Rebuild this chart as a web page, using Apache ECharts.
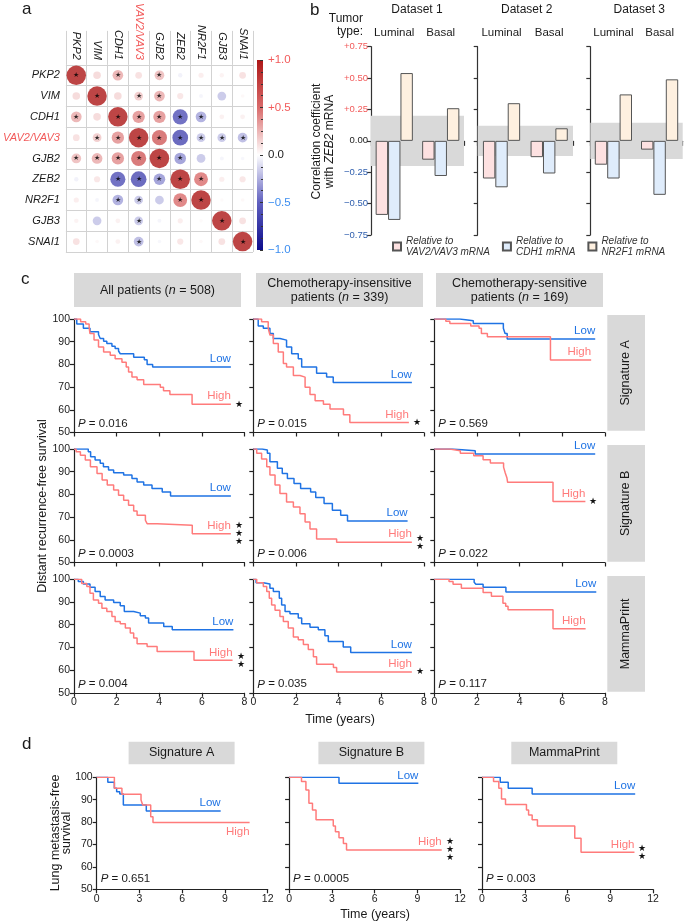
<!DOCTYPE html>
<html>
<head>
<meta charset="utf-8">
<script src="https://cdn.jsdelivr.net/npm/echarts@6/dist/echarts.min.js"></script>
<style>
html, body { margin: 0; padding: 0; background: #fff; }
#chart { width: 685px; height: 923px; }
</style>
</head>
<body>
<div id="chart"></div>
<script>
// ---------- panel a: correlation matrix ----------
var genes = ['PKP2', 'VIM', 'CDH1', 'VAV2/VAV3', 'GJB2', 'ZEB2', 'NR2F1', 'GJB3', 'SNAI1'];
var corr = [
    [1, 0.15, 0.3, 0.12, 0.25, -0.05, 0.07, 0.05, 0.12],
    [0.15, 1, 0.15, 0.2, 0.3, 0.1, -0.04, -0.2, 0.03],
    [0.3, 0.15, 1, 0.4, 0.4, -0.6, -0.3, 0.06, 0.06],
    [0.12, 0.2, 0.4, 1, 0.6, -0.65, -0.2, -0.2, -0.25],
    [0.25, 0.3, 0.4, 0.6, 1, -0.35, -0.2, -0.04, -0.03],
    [-0.05, 0.1, -0.6, -0.65, -0.35, 1, 0.5, 0.07, 0.1],
    [0.07, -0.04, -0.3, -0.2, -0.2, 0.5, 1, 0.02, 0.03],
    [0.05, -0.2, 0.06, -0.2, -0.04, 0.07, 0.02, 1, 0.12],
    [0.12, 0.03, 0.06, -0.25, -0.03, 0.1, 0.03, 0.12, 1]
];
var corrSig = [
    [1, 0, 1, 0, 1, 0, 0, 0, 0],
    [0, 1, 0, 1, 1, 0, 0, 0, 0],
    [1, 0, 1, 1, 1, 1, 1, 0, 0],
    [0, 1, 1, 1, 1, 1, 1, 1, 1],
    [1, 1, 1, 1, 1, 1, 0, 0, 0],
    [0, 0, 1, 1, 1, 1, 1, 0, 0],
    [0, 0, 1, 1, 0, 1, 1, 0, 0],
    [0, 0, 0, 1, 0, 0, 0, 1, 0],
    [0, 0, 0, 1, 0, 0, 0, 0, 1]
];

// ---------- panel b: bars ----------
var datasets = ['Dataset 1', 'Dataset 2', 'Dataset 3'];
var tumorTypes = ['Luminal', 'Basal'];
var relToVAV = [[-0.59, -0.15], [-0.30, -0.13], [-0.19, -0.07]];
var relToCDH1 = [[-0.63, -0.28], [-0.37, -0.26], [-0.30, -0.43]];
var relToNR2F1 = [[0.54, 0.26], [0.30, 0.10], [0.37, 0.49]];
var bandHalf = [0.20, 0.12, 0.145];

// ---------- panel c: distant recurrence-free survival [years, %] ----------
var sigA_all_low = [[0,100],[0.13,97.8],[0.44,95.9],[0.75,94.4],[1.15,93.2],[1.23,91.4],[1.39,90.2],[1.54,89.2],[1.78,88],[1.93,87],[2.09,85.9],[2.17,84.7],[2.8,83.2],[3.3,82.1],[3.43,80],[3.69,78.8],[7.36,78.8]];
var sigA_all_high = [[0,100],[0.31,98.8],[0.55,97.8],[0.71,96.3],[0.75,93.6],[0.94,90.7],[1.15,87.7],[1.39,85.5],[1.7,84],[1.93,82.5],[2.25,81],[2.45,78.8],[2.56,76.6],[2.72,74.4],[2.96,73.2],[3.27,71.1],[4.05,69.9],[4.2,68.4],[4.5,66.7],[5.54,62.5],[7.36,62.5]];
var sigA_ins_low = [[0,100],[0.23,96.9],[0.47,95.9],[0.78,93.6],[0.94,91.4],[1.25,90.7],[1.56,87.7],[1.8,84.7],[2.11,82.5],[2.27,78.8],[2.97,76.1],[3.44,74.4],[3.75,72],[7.44,72]];
var sigA_ins_high = [[0,100],[0.39,98.8],[0.7,95.9],[0.78,92.9],[0.94,89.2],[1.17,85.5],[1.41,80.4],[1.56,78.8],[1.88,75.1],[2.19,74.4],[2.43,69.9],[2.66,66.7],[2.9,64],[3.29,62.5],[3.6,60.3],[4.23,57.8],[4.53,54.4],[7.3,54.4]];
var sigA_sens_low = [[0,100],[1.2,99.2],[1.83,98],[3.24,95.9],[3.32,93.6],[3.42,91.2],[7.55,91.2]];
var sigA_sens_high = [[0,100],[0.54,99],[0.73,98],[1.71,96.9],[2.1,95.9],[2.21,93.6],[2.49,92.2],[5.45,81.9],[7.36,81.9]];

var sigB_all_low = [[0,100],[0.67,98.8],[0.78,96.6],[0.99,95.1],[1.23,93.7],[1.38,92.2],[1.62,90.7],[1.86,89.5],[2.33,88.5],[2.72,87],[2.96,85.5],[3.27,84.1],[3.66,82.6],[4.14,81.1],[4.53,79.3],[7.36,79.3]];
var sigB_all_high = [[0,100],[0.1,98.8],[0.3,97.3],[0.53,95.1],[0.77,92.2],[1.08,89.2],[1.32,86.3],[1.56,84.1],[1.86,81.9],[2.09,79.6],[2.33,77.4],[2.56,75.2],[2.8,72.7],[2.96,70.8],[3.35,68.6],[3.43,67.1],[3.9,66.4],[5.55,62.7],[7.36,62.7]];
var sigB_ins_low = [[0,100],[0.42,99.6],[0.66,98.1],[0.78,94.4],[1.13,91.5],[1.36,89.2],[1.6,87],[1.91,84.8],[2.22,82.6],[2.69,81.1],[2.93,78.6],[3.32,76],[3.71,73],[4.1,70.8],[4.42,68.3],[7.24,68.3]];
var sigB_ins_high = [[0,100],[0.16,98.1],[0.39,95.6],[0.63,92.2],[0.78,88.5],[1.02,84.1],[1.25,80.4],[1.56,76.7],[1.88,74.5],[2.19,71.5],[2.43,67.8],[2.66,64.8],[2.97,60.4],[3.91,58.9],[7.44,58.9]];
var sigB_sens_low = [[0,100],[0.84,99.2],[1.92,97.8],[7.55,97.8]];
var sigB_sens_high = [[0,100],[0.72,99.2],[1.22,98.1],[1.85,97],[2.29,95.3],[2.63,93.8],[3.25,92],[3.33,89.4],[3.41,87.2],[3.44,85.3],[5.57,76.9],[7.09,76.9]];

var mp_all_low = [[0,100],[0.2,99],[0.44,97.9],[0.75,96.5],[0.99,94.6],[1.23,92.4],[1.46,90.9],[1.86,89.8],[2.17,88.3],[2.36,85.8],[2.8,85.1],[3.11,83.9],[3.35,82.9],[3.5,80.7],[4.21,79.2],[4.61,77.8],[7.48,77.8]];
var mp_all_high = [[0,100],[0.36,98.2],[0.6,96.8],[0.75,93.9],[0.91,90.9],[1.15,89.5],[1.31,87.3],[1.54,85.8],[1.78,83.6],[1.93,81.4],[2.17,80.4],[2.41,78.5],[2.64,76.3],[2.8,74.1],[2.96,71.6],[3.43,70.4],[3.9,68.2],[5.63,64.3],[7.44,64.3]];
var mp_ins_low = [[0,100],[0.13,98.5],[0.47,97.9],[0.78,96.1],[0.94,94.6],[1.22,91.7],[1.33,88.7],[1.49,85.8],[1.72,84.8],[2.11,82.9],[2.27,80.4],[2.66,78.9],[3.05,77.8],[3.36,75.1],[3.52,72.6],[4.22,70.2],[4.57,67.8],[7.44,67.8]];
var mp_ins_high = [[0,100],[0.16,98.5],[0.47,96.8],[0.63,94.6],[0.75,91.7],[0.86,88.7],[1.02,86.4],[1.25,83.6],[1.41,81.4],[1.64,78.5],[1.88,74.6],[2.11,73.4],[2.35,71.3],[2.58,69.1],[2.82,65.9],[2.97,62.6],[3.76,61.1],[3.91,59.2],[7.44,59.2]];
var mp_sens_low = [[0,100],[1.87,98.7],[1.95,97.8],[2.29,96.5],[3.36,94.4],[7.6,94.4]];
var mp_sens_high = [[0,100],[0.69,99],[0.88,97.8],[1.27,96.1],[2.29,94.2],[2.68,92.5],[3.22,89.5],[3.35,88.1],[3.46,86.6],[5.57,78.2],[7.1,78.2]];

var cPvalues = ['0.016', '0.015', '0.569', '0.0003', '0.006', '0.022', '0.004', '0.035', '0.117'];
var cStars = [1, 1, 0, 3, 2, 1, 2, 1, 0];
var cColumnTitles = ['All patients ({i|n} = 508)', 'Chemotherapy-insensitive\npatients ({i|n} = 339)', 'Chemotherapy-sensitive\npatients ({i|n} = 169)'];
var cRowTitles = ['Signature A', 'Signature B', 'MammaPrint'];

// ---------- panel d: lung metastasis-free survival ----------
var lung_sigA_low = [[0,100],[0.78,97.8],[1.24,95.1],[1.4,93.6],[1.62,92.6],[1.87,87.6],[3.48,85],[8.7,85]];
var lung_sigA_high = [[0,100],[1.24,95.1],[1.77,92.4],[3.11,89.9],[3.23,87.6],[3.79,82.4],[3.95,79.8],[10.73,79.8]];
var lung_sigB_low = [[0,100],[3.5,97.3],[9.07,97.3]];
var lung_sigB_high = [[0,100],[0.87,98.1],[1.18,94.3],[1.39,88.4],[1.64,85.4],[1.89,81],[3.1,78.3],[3.25,75.7],[3.5,73],[3.81,70.5],[4.03,67.6],[10.71,67.6]];
var lung_mp_low = [[0,100],[1.28,97.8],[1.84,95.1],[3.52,92.6],[10.75,92.6]];
var lung_mp_high = [[0,100],[0.81,98.1],[1.18,95.1],[1.37,90.3],[1.65,87.9],[3.12,85.4],[3.27,83.2],[3.52,81],[3.89,78.3],[6.51,72.8],[6.95,66.5],[10.7,66.5]];
var dPvalues = ['0.651', '0.0005', '0.003'];
var dStars = [0, 3, 2];
var dTitles = ['Signature A', 'Signature B', 'MammaPrint'];

// ---------- styling ----------
var FONT = '"Liberation Sans", Arial, Helvetica, sans-serif';
var BLUE = '#1f73e4', PINK = '#ff7b7b', INK = '#1a1a1a';
var RED_TXT = '#f25a5a', BLUE_TXT = '#3d8ef0', BLUE_TXT2 = '#2f5fae';
var CMAP = ['#0c0c8c', '#6060bf', '#ffffff', '#d96b6b', '#ad1717'];
var BOX = '#d9d9d9';

var grids = [], xAxes = [], yAxes = [], series = [], graphics = [];

function txt(x, y, text, size, opts) {
    opts = opts || {};
    return {
        type: 'text', x: x, y: y, rotation: opts.rotation || 0, silent: true,
        style: {
            text: text, fill: opts.color || INK,
            font: (opts.italic ? 'italic ' : '') + size + 'px ' + FONT,
            align: opts.align || 'center', verticalAlign: opts.valign || 'middle',
            lineHeight: opts.lineHeight || size * 1.1,
            rich: { i: { fontStyle: 'italic', fontSize: size, fontFamily: FONT, fill: opts.color || INK } }
        }
    };
}
function box(x, y, w, h) {
    return { type: 'rect', silent: true, shape: { x: x, y: y, width: w, height: h }, style: { fill: BOX } };
}

// ===== panel a =====
grids.push({ left: 61, top: 60, width: 192, height: 192 });
xAxes.push({
    type: 'category', gridIndex: 0, data: genes, position: 'top',
    axisLine: { show: false },
    axisTick: { show: true, length: 34, lineStyle: { color: '#d2d2d2' } },
    axisLabel: { rotate: 90, fontSize: 11, fontStyle: 'italic', margin: 5, interval: 0,
        color: function (v) { return v === 'VAV2/VAV3' ? RED_TXT : INK; } },
    splitLine: { show: true, lineStyle: { color: '#d2d2d2' } }
});
yAxes.push({
    type: 'category', gridIndex: 0, data: genes, inverse: true,
    axisLine: { show: false }, axisTick: { show: false },
    axisLabel: { fontSize: 11, fontStyle: 'italic', margin: 6, interval: 0,
        color: function (v) { return v === 'VAV2/VAV3' ? RED_TXT : INK; } },
    splitLine: { show: true, lineStyle: { color: '#d2d2d2' } }
});
var corrData = [];
corr.forEach(function (row, i) {
    row.forEach(function (r, j) { corrData.push([j, i, r, corrSig[i][j]]); });
});
series.push({
    type: 'scatter', xAxisIndex: 0, yAxisIndex: 0, data: corrData, z: 3,
    symbolSize: function (v) { return Math.max(3.5, 19.5 * Math.sqrt(Math.abs(v[2]))); },
    label: { show: true, position: 'inside', fontSize: 7, color: '#000',
        formatter: function (p) { return p.value[3] ? '★' : ''; } }
});

// colour bar
grids.push({ left: 257, top: 60, width: 6, height: 190 });
xAxes.push({ type: 'category', gridIndex: 1, data: [''], show: false });
yAxes.push({
    type: 'value', gridIndex: 1, min: -1, max: 1, interval: 0.5, position: 'right',
    axisLine: { show: false },
    axisTick: { show: true, inside: true, length: 3, lineStyle: { color: '#333' } },
    minorTick: { show: true, splitNumber: 4, length: 2, lineStyle: { color: '#333' } },
    splitLine: { show: false },
    axisLabel: { fontSize: 11.5, margin: 5,
        formatter: function (v) { return v > 0 ? '+' + v.toFixed(1) : (v < 0 ? '\u2212' + Math.abs(v).toFixed(1) : '0.0'); },
        color: function (v) { v = +v; return v > 0 ? RED_TXT : (v < 0 ? BLUE_TXT : INK); } }
});
graphics.push({
    type: 'rect', silent: true, z: -1, shape: { x: 257, y: 60, width: 6, height: 190 },
    style: { fill: { type: 'linear', x: 0, y: 0, x2: 0, y2: 1, colorStops: CMAP.slice().reverse().map(function (c, k) { return { offset: k / 4, color: c }; }) } }
});

// ===== panel b =====
var bLeft = [371, 477.7, 590.3], bWidth = [93, 95.3, 92.4];
var barColors = ['#fde1e1', '#dfecfb', '#fef0e0'];
var barNames = ['VAV2/VAV3', 'CDH1', 'NR2F1'];
var barSets = [relToVAV, relToCDH1, relToNR2F1];
datasets.forEach(function (ds, k) {
    var gi = grids.length;
    grids.push({ left: bLeft[k], top: 46.7, width: bWidth[k], height: 188.3 });
    var xb = xAxes.length;
    xAxes.push({
        type: 'category', gridIndex: gi, data: tumorTypes, position: 'bottom',
        axisLine: { onZero: true, lineStyle: { color: '#333', width: 1.2 } },
        axisTick: { show: true, length: 5, lineStyle: { color: '#333', width: 1.2 } },
        axisLabel: { show: false }
    });
    xAxes.push({
        type: 'category', gridIndex: gi, data: tumorTypes, position: 'top',
        axisLine: { show: false }, axisTick: { show: false },
        axisLabel: { fontSize: 11.5, margin: 8, color: INK, interval: 0 }
    });
    var yi = yAxes.length;
    yAxes.push({
        type: 'value', gridIndex: gi, min: -0.75, max: 0.75, interval: 0.25,
        axisLine: { show: true, lineStyle: { color: '#333', width: 1.2 } },
        axisTick: { show: true, length: 4, lineStyle: { color: '#333', width: 1.2 } },
        splitLine: { show: false },
        axisLabel: { show: k === 0, fontSize: 9.5, margin: 3,
            formatter: function (v) { return v > 0 ? '+' + v.toFixed(2) : (v < 0 ? '\u2212' + Math.abs(v).toFixed(2) : '0.00'); },
            color: function (v) { v = +v; return v > 0 ? RED_TXT : (v < 0 ? BLUE_TXT2 : INK); } }
    });
    // grey band behind the bars
    series.push({
        type: 'custom', xAxisIndex: xb, yAxisIndex: yi, z: 1, silent: true,
        data: [[0, -bandHalf[k], bandHalf[k]]],
        encode: { x: 0, y: [1, 2] },
        renderItem: function (params, api) {
            var cs = params.coordSys;
            var top = api.coord([0, api.value(2)])[1];
            var bottom = api.coord([0, api.value(1)])[1];
            return { type: 'rect', shape: { x: cs.x, y: top, width: cs.width, height: bottom - top }, style: { fill: '#d9d9d9' } };
        }
    });
    barSets.forEach(function (set, s) {
        series.push({
            type: 'bar', name: barNames[s], xAxisIndex: xb, yAxisIndex: yi, data: set[k],
            barWidth: 12.4, barGap: '0%', z: 3,
            itemStyle: { color: barColors[s], borderColor: '#555', borderWidth: 1 }
        });
    });
    graphics.push(txt(bLeft[k] + 46 + (k === 0 ? 0 : 3), 9.5, ds, 12));
});

// ===== KM helper =====
function kmLine(xi, yi, data, color, name, below, stars) {
    var last = data[data.length - 1];
    var mp = [{ coord: last, label: { show: true, formatter: name, color: color, fontSize: 11.5,
        position: [0, 0], align: 'right', verticalAlign: below ? 'top' : 'bottom', offset: [0, below ? 3 : -2] } }];
    if (stars) {
        var s = []; for (var q = 0; q < stars; q++) s.push('★');
        mp.push({ coord: last, label: { show: true, formatter: s.join('\n'), color: '#111', fontSize: 9, lineHeight: 8,
            position: [0, 0], align: 'center', verticalAlign: 'middle', offset: [8, 0] } });
    }
    return {
        type: 'line', xAxisIndex: xi, yAxisIndex: yi, step: 'end', data: data, z: 3,
        symbol: 'none', showSymbol: false, lineStyle: { color: color, width: 1.5 }, itemStyle: { color: color },
        markPoint: { symbol: 'circle', symbolSize: 0, silent: true, data: mp }
    };
}
function addKM(o) {
    var gi = grids.length, xi = xAxes.length, yi = yAxes.length;
    grids.push({ left: o.left, top: o.top, width: o.width, height: o.height });
    xAxes.push({
        type: 'value', gridIndex: gi, min: 0, max: o.xmax, interval: o.xint,
        axisLine: { onZero: false, lineStyle: { color: '#222', width: 1.2 } },
        axisTick: { length: 4, lineStyle: { color: '#222', width: 1.2 } },
        axisLabel: { show: o.showX, fontSize: 10.5, color: INK, margin: 4 },
        splitLine: { show: false }
    });
    yAxes.push({
        type: 'value', gridIndex: gi, min: 50, max: 100, interval: 10,
        axisLine: { show: true, lineStyle: { color: '#222', width: 1.2 } },
        axisTick: { show: true, length: 4, lineStyle: { color: '#222', width: 1.2 } },
        axisLabel: { show: o.showY, fontSize: 10.5, color: INK, margin: 4 },
        splitLine: { show: false }
    });
    series.push(kmLine(xi, yi, o.low, BLUE, 'Low', false, 0));
    series.push(kmLine(xi, yi, o.high, PINK, 'High', o.highBelow, o.stars));
    graphics.push(txt(o.left + 4, o.top + o.height - o.pGap, '{i|P} = ' + o.p, 11.5, { align: 'left' }));
}

// ===== panel c =====
var cCurves = [
    [sigA_all_low, sigA_all_high], [sigA_ins_low, sigA_ins_high], [sigA_sens_low, sigA_sens_high],
    [sigB_all_low, sigB_all_high], [sigB_ins_low, sigB_ins_high], [sigB_sens_low, sigB_sens_high],
    [mp_all_low, mp_all_high], [mp_ins_low, mp_ins_high], [mp_sens_low, mp_sens_high]
];
var cLeft = [74, 253.3, 434.3], cTop = [319, 449, 579.3];
cCurves.forEach(function (pair, n) {
    var r = Math.floor(n / 3), c = n % 3;
    addKM({ left: cLeft[c], top: cTop[r], width: 170.5, height: 113.5, xmax: 8, xint: 2,
        showX: r === 2, showY: c === 0, low: pair[0], high: pair[1],
        stars: cStars[n], p: cPvalues[n], pGap: 8.5 });
});
[74, 256, 436].forEach(function (x, c) {
    graphics.push(box(x, 273, 167, 34));
    graphics.push(txt(x + 83.5, 290.5, cColumnTitles[c], 12.5, { lineHeight: 13.5 }));
});
[[315, 115.7], [445, 116.7], [576, 115.7]].forEach(function (b, r) {
    graphics.push(box(607.3, b[0], 37.7, b[1]));
    graphics.push(txt(626, b[0] + b[1] / 2, cRowTitles[r], 12.5, { rotation: Math.PI / 2 }));
});
graphics.push(txt(43, 506, 'Distant recurrence-free survival', 12.5, { rotation: Math.PI / 2 }));
graphics.push(txt(340, 720, 'Time (years)', 12.5));

// ===== panel d =====
var dCurves = [[lung_sigA_low, lung_sigA_high], [lung_sigB_low, lung_sigB_high], [lung_mp_low, lung_mp_high]];
var dLeft = [96.7, 289.1, 482];
dCurves.forEach(function (pair, c) {
    addKM({ left: dLeft[c], top: 777.3, width: 171, height: 112, xmax: 12, xint: 3,
        showX: true, showY: c === 0, low: pair[0], high: pair[1], highBelow: c === 0,
        stars: dStars[c], p: dPvalues[c], pGap: 10.5 });
});
[128.6, 318.4, 511.3].forEach(function (x, c) {
    graphics.push(box(x, 741.7, 106, 22.6));
    graphics.push(txt(x + 53, 753, dTitles[c], 12.5));
});
graphics.push(txt(61, 833, 'Lung metastasis-free\nsurvival', 12.5, { rotation: Math.PI / 2, lineHeight: 11.5 }));
graphics.push(txt(375, 915, 'Time (years)', 12.5));

// ===== other labels =====
graphics.push(txt(22, 9, 'a', 17, { align: 'left' }));
graphics.push(txt(310, 10, 'b', 17, { align: 'left' }));
graphics.push(txt(21, 279, 'c', 17, { align: 'left' }));
graphics.push(txt(22, 744, 'd', 17, { align: 'left' }));
graphics.push(txt(363, 19, 'Tumor', 12, { align: 'right' }));
graphics.push(txt(363, 32, 'type:', 12, { align: 'right' }));
graphics.push(txt(323, 141.5, 'Correlation coefficient\nwith {i|ZEB2} mRNA', 12, { rotation: Math.PI / 2, lineHeight: 12.5 }));

var chart = echarts.init(document.getElementById('chart'), null, { renderer: 'canvas' });
chart.setOption({
    backgroundColor: '#fff',
    animation: false,
    textStyle: { fontFamily: FONT },
    grid: grids,
    xAxis: xAxes,
    yAxis: yAxes,
    visualMap: [{ type: 'continuous', show: false, seriesIndex: 0, dimension: 2, min: -1, max: 1, inRange: { color: CMAP } }],
    legend: {
        data: barNames, left: 387, top: 231, itemWidth: 8, itemHeight: 8, itemGap: 12, icon: 'rect',
        formatter: function (name) { return 'Relative to\n' + name + ' mRNA'; },
        textStyle: { fontStyle: 'italic', fontSize: 10, color: '#333', lineHeight: 10.5 }
    },
    graphic: graphics,
    series: series
});
</script>
</body>
</html>
